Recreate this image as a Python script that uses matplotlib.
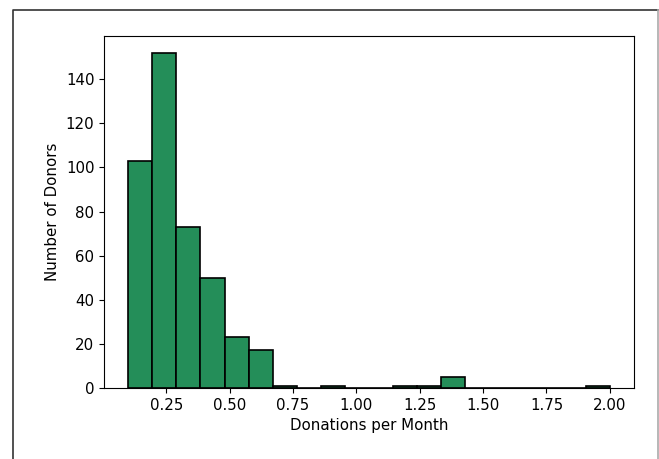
import numpy as np
import matplotlib
matplotlib.use("Agg")
import matplotlib.pyplot as plt
from matplotlib.lines import Line2D

# гистограмма: 20 интервалов от 0.1 до 2.0
bin_start = 0.1
bin_end = 2.0
n_bins = 20
counts = [103, 152, 73, 50, 23, 17, 1, 0, 1, 0,
          0, 1, 1, 5, 0, 0, 0, 0, 0, 1]

edges = np.linspace(bin_start, bin_end, n_bins + 1)
centers = (edges[:-1] + edges[1:]) / 2

plt.rcParams['font.size'] = 10.8

fig = plt.figure(figsize=(6.59, 4.59), dpi=100)
ax = fig.add_axes([0.158, 0.1547, 0.804, 0.767])

ax.hist(centers, bins=edges, weights=counts, color="#248e59",
        edgecolor="black", linewidth=1.2)
ax.set_xlabel("Donations per Month")
ax.set_ylabel("Number of Donors")
ax.set_xticks([0.25, 0.5, 0.75, 1.0, 1.25, 1.5, 1.75, 2.0])

# рамка вокруг картинки (как на скриншоте): слева и сверху тёмная, справа светлая
x0, x1 = 13 / 659, 657.5 / 659
y_top = 1 - 10 / 459
fig.lines.append(Line2D([x0, x0, x1], [0, y_top, y_top], transform=fig.transFigure,
                        color="#333333", linewidth=1.2))
fig.lines.append(Line2D([x1, x1], [y_top, 0], transform=fig.transFigure,
                        color="#aaaaaa", linewidth=1.2))

fig.savefig("out.png", dpi=100)
